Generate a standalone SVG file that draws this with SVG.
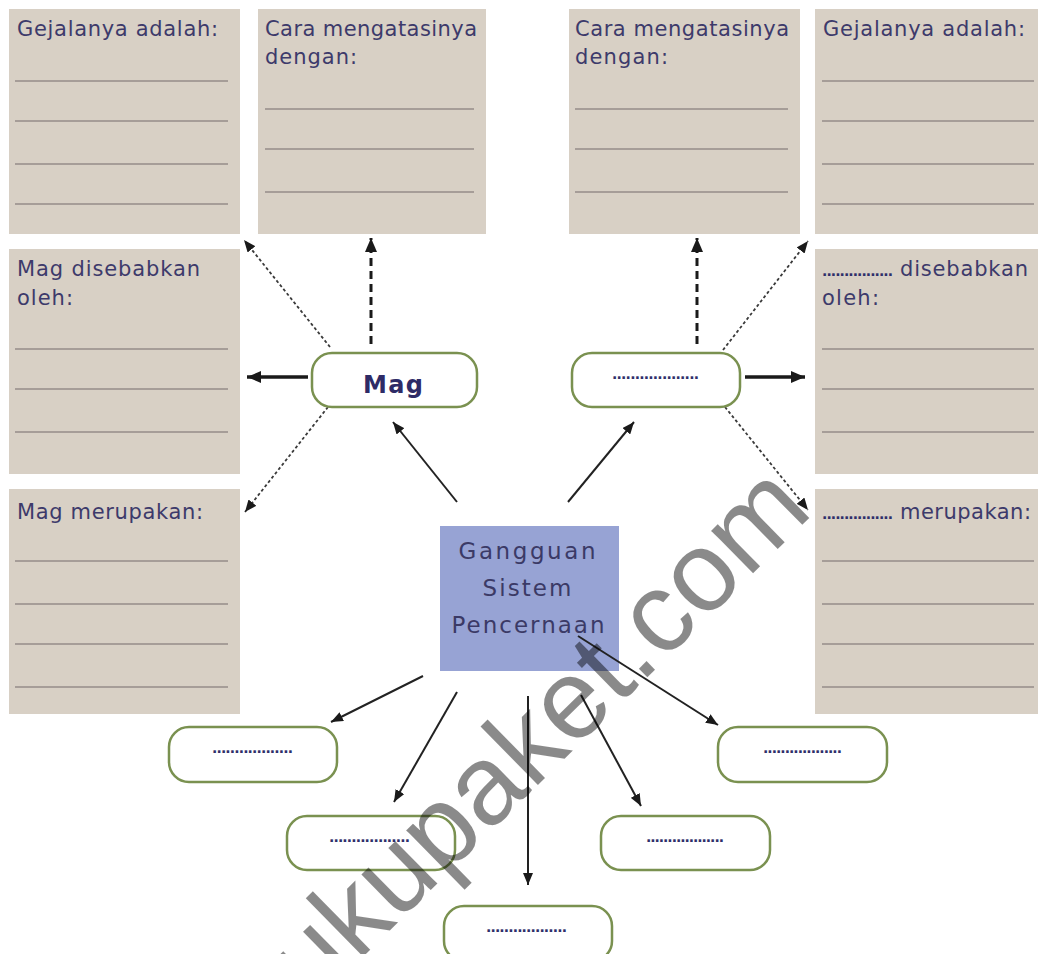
<svg xmlns="http://www.w3.org/2000/svg" width="1038" height="954" viewBox="0 0 1038 954">
<style>
.box{fill:#d8d0c5}
.ln{stroke:#968c88;stroke-width:1.7}
.t{font-family:"DejaVu Sans",sans-serif;font-size:21px;fill:#3d3a6b}
.dots{font-family:"DejaVu Sans",sans-serif;font-size:14px;font-weight:bold;fill:#2f2f6a}
.ov{fill:#ffffff;stroke:#7a9150;stroke-width:2.5}
.ct{font-family:"DejaVu Sans",sans-serif;font-size:23px;fill:#3b3a66;text-anchor:middle}
.c-solid{stroke:#222;stroke-width:2;fill:none}
.c-thick{stroke:#1a1a1a;stroke-width:3.5;fill:none}
.c-dash{stroke:#1a1a1a;stroke-width:3;stroke-dasharray:8 5;fill:none}
.c-dot{stroke:#3a3a3a;stroke-width:1.8;stroke-dasharray:3 2.5;fill:none}
</style>
<defs>
<marker id="ah" viewBox="0 0 12 10" refX="12" refY="5" markerWidth="12" markerHeight="10" markerUnits="userSpaceOnUse" orient="auto"><path d="M0,0 L12,5 L0,10 z" fill="#1a1a1a"/></marker>
<marker id="ahb" viewBox="0 0 14 12" refX="14" refY="6" markerWidth="14" markerHeight="12" markerUnits="userSpaceOnUse" orient="auto"><path d="M0,0 L14,6 L0,12 z" fill="#1a1a1a"/></marker>
</defs>
<rect width="1038" height="954" fill="#ffffff"/>

<g id="box-tl1">
<rect class="box" x="9" y="9" width="231" height="225"/>
<text class="t" x="17" y="36" textLength="201" lengthAdjust="spacing">Gejalanya adalah:</text>
<line class="ln" x1="15" y1="81" x2="228" y2="81"/><line class="ln" x1="15" y1="121" x2="228" y2="121"/><line class="ln" x1="15" y1="164" x2="228" y2="164"/><line class="ln" x1="15" y1="204" x2="228" y2="204"/>
</g>
<g id="box-tl2">
<rect class="box" x="258" y="9" width="228" height="225"/>
<text class="t" x="265" y="36" textLength="212" lengthAdjust="spacing">Cara mengatasinya</text>
<text class="t" x="265" y="64" textLength="92" lengthAdjust="spacing">dengan:</text>
<line class="ln" x1="265" y1="109" x2="474" y2="109"/><line class="ln" x1="265" y1="149" x2="474" y2="149"/><line class="ln" x1="265" y1="192" x2="474" y2="192"/>
</g>
<g id="box-tr1">
<rect class="box" x="569" y="9" width="231" height="225"/>
<text class="t" x="575" y="36" textLength="214" lengthAdjust="spacing">Cara mengatasinya</text>
<text class="t" x="575" y="64" textLength="93" lengthAdjust="spacing">dengan:</text>
<line class="ln" x1="575" y1="109" x2="788" y2="109"/><line class="ln" x1="575" y1="149" x2="788" y2="149"/><line class="ln" x1="575" y1="192" x2="788" y2="192"/>
</g>
<g id="box-tr2">
<rect class="box" x="815" y="9" width="223" height="225"/>
<text class="t" x="823" y="36" textLength="202" lengthAdjust="spacing">Gejalanya adalah:</text>
<line class="ln" x1="822" y1="81" x2="1034" y2="81"/><line class="ln" x1="822" y1="121" x2="1034" y2="121"/><line class="ln" x1="822" y1="164" x2="1034" y2="164"/><line class="ln" x1="822" y1="204" x2="1034" y2="204"/>
</g>
<g id="box-ml">
<rect class="box" x="9" y="249" width="231" height="225"/>
<text class="t" x="17" y="276" textLength="183" lengthAdjust="spacing">Mag disebabkan</text>
<text class="t" x="17" y="305" textLength="56" lengthAdjust="spacing">oleh:</text>
<line class="ln" x1="15" y1="349" x2="228" y2="349"/><line class="ln" x1="15" y1="389" x2="228" y2="389"/><line class="ln" x1="15" y1="432" x2="228" y2="432"/>
</g>
<g id="box-mr">
<rect class="box" x="815" y="249" width="223" height="225"/>
<text class="dots" x="822" y="276" textLength="71" lengthAdjust="spacing">................</text>
<text class="t" x="900" y="276" textLength="128" lengthAdjust="spacing">disebabkan</text>
<text class="t" x="822" y="305" textLength="57" lengthAdjust="spacing">oleh:</text>
<line class="ln" x1="822" y1="349" x2="1034" y2="349"/><line class="ln" x1="822" y1="389" x2="1034" y2="389"/><line class="ln" x1="822" y1="432" x2="1034" y2="432"/>
</g>
<g id="box-bl">
<rect class="box" x="9" y="489" width="231" height="225"/>
<text class="t" x="17" y="519" textLength="186" lengthAdjust="spacing">Mag merupakan:</text>
<line class="ln" x1="15" y1="561" x2="228" y2="561"/><line class="ln" x1="15" y1="604" x2="228" y2="604"/><line class="ln" x1="15" y1="644" x2="228" y2="644"/><line class="ln" x1="15" y1="687" x2="228" y2="687"/>
</g>
<g id="box-br">
<rect class="box" x="815" y="489" width="223" height="225"/>
<text class="dots" x="822" y="519" textLength="71" lengthAdjust="spacing">................</text>
<text class="t" x="900" y="519" textLength="131" lengthAdjust="spacing">merupakan:</text>
<line class="ln" x1="822" y1="561" x2="1034" y2="561"/><line class="ln" x1="822" y1="604" x2="1034" y2="604"/><line class="ln" x1="822" y1="644" x2="1034" y2="644"/><line class="ln" x1="822" y1="687" x2="1034" y2="687"/>
</g>

<g id="center">
<rect x="440" y="526" width="179" height="145" fill="#97a3d4"/>
<text class="ct" x="527" y="559" textLength="137" lengthAdjust="spacing">Gangguan</text>
<text class="ct" x="527" y="596" textLength="89" lengthAdjust="spacing">Sistem</text>
<text class="ct" x="528" y="633" textLength="153" lengthAdjust="spacing">Pencernaan</text>
</g>

<g id="connectors">
<line class="c-solid" x1="457" y1="502" x2="393" y2="422" marker-end="url(#ah)"/>
<line class="c-solid" x1="568" y1="502" x2="634" y2="422" marker-end="url(#ah)"/>
<line class="c-solid" x1="423" y1="676" x2="331" y2="722" marker-end="url(#ah)"/>
<line class="c-solid" x1="457" y1="692" x2="394" y2="802" marker-end="url(#ah)"/>
<line class="c-solid" x1="528" y1="696" x2="528" y2="885" marker-end="url(#ah)"/>
<line class="c-solid" x1="581" y1="695" x2="641" y2="806" marker-end="url(#ah)"/>
<line class="c-solid" x1="578" y1="636" x2="718" y2="725" marker-end="url(#ah)"/>
<line class="c-dot" x1="330" y1="347" x2="244" y2="240" marker-end="url(#ah)"/>
<line class="c-dash" x1="371" y1="344" x2="371" y2="238" marker-end="url(#ahb)"/>
<line class="c-thick" x1="308" y1="377" x2="247" y2="377" marker-end="url(#ahb)"/>
<line class="c-dot" x1="328" y1="407" x2="245" y2="512" marker-end="url(#ah)"/>
<line class="c-dash" x1="697" y1="344" x2="697" y2="238" marker-end="url(#ahb)"/>
<line class="c-dot" x1="723" y1="350" x2="808" y2="241" marker-end="url(#ah)"/>
<line class="c-thick" x1="745" y1="377" x2="805" y2="377" marker-end="url(#ahb)"/>
<line class="c-dot" x1="725" y1="407" x2="808" y2="510" marker-end="url(#ah)"/>
</g>

<g id="node-mag">
<rect class="ov" x="312" y="353" width="165" height="54" rx="20"/>
<text x="393" y="393" font-family="DejaVu Sans,sans-serif" font-size="24" font-weight="bold" fill="#2e2b66" text-anchor="middle" textLength="60" lengthAdjust="spacing">Mag</text>
</g>
<g id="node-rt">
<rect class="ov" x="572" y="353" width="168" height="54" rx="20"/>
<text class="dots" x="612" y="379" textLength="87" lengthAdjust="spacing">...................</text>
</g>
<g id="node-l">
<rect class="ov" x="169" y="727" width="168" height="55" rx="20"/>
<text class="dots" x="212" y="753" textLength="81" lengthAdjust="spacing">..................</text>
</g>
<g id="node-r">
<rect class="ov" x="718" y="727" width="169" height="55" rx="20"/>
<text class="dots" x="763" y="753" textLength="79" lengthAdjust="spacing">..................</text>
</g>
<g id="node-blm">
<rect class="ov" x="287" y="816" width="168" height="54" rx="20"/>
<text class="dots" x="329" y="842" textLength="81" lengthAdjust="spacing">..................</text>
</g>
<g id="node-brm">
<rect class="ov" x="601" y="816" width="169" height="54" rx="20"/>
<text class="dots" x="646" y="842" textLength="78" lengthAdjust="spacing">..................</text>
</g>
<g id="node-b">
<rect class="ov" x="444" y="906" width="168" height="55" rx="20"/>
<text class="dots" x="486" y="932" textLength="81" lengthAdjust="spacing">..................</text>
</g>

<text transform="translate(268,1050) rotate(-44.5)" x="0" y="0" font-family="Liberation Sans,Arial,sans-serif" font-size="113" fill="#000000" fill-opacity="0.46">bukupaket.com</text>
</svg>
